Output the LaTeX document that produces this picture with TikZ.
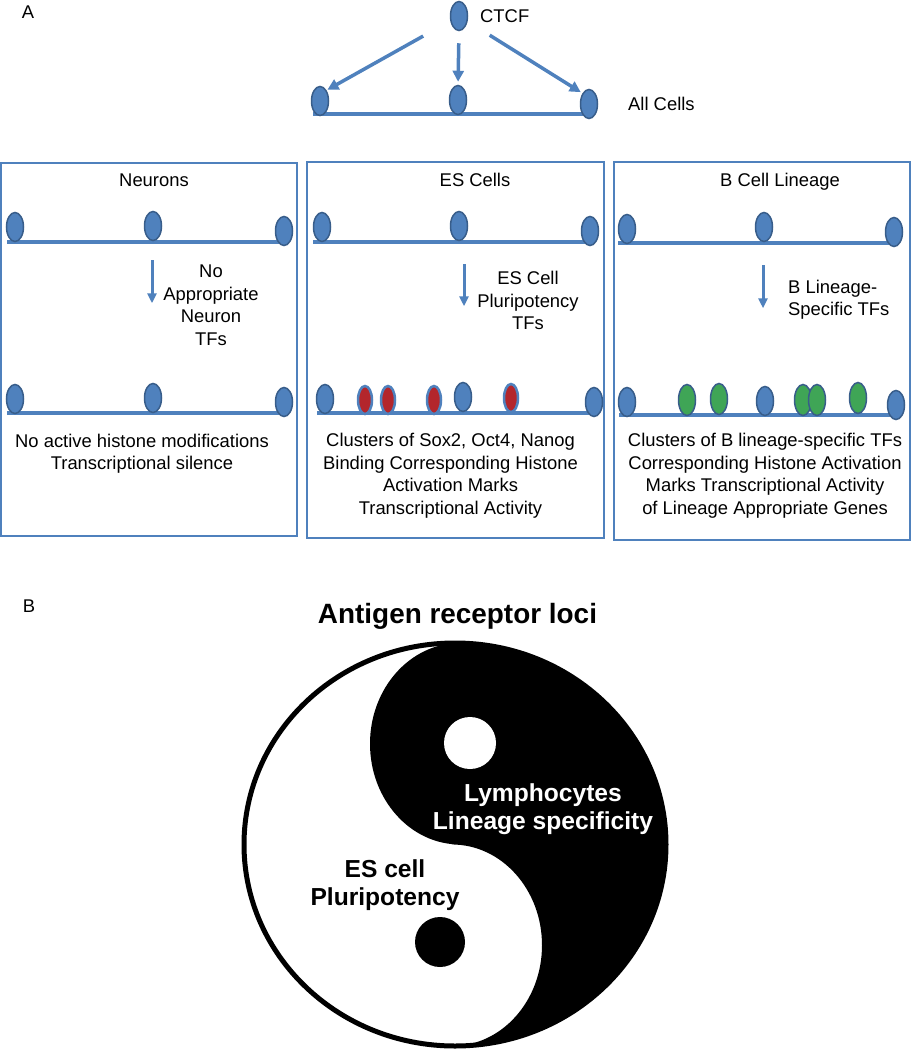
\documentclass[tikz,border=0pt]{standalone}
\usepackage{fontspec}
\setmainfont{Liberation Sans}
\usetikzlibrary{shapes.geometric,arrows.meta}
\definecolor{ctcfblue}{HTML}{4F81BD}
\definecolor{ctcfedge}{HTML}{385D8A}
\definecolor{tfred}{HTML}{B3262C}
\definecolor{tfgreen}{HTML}{3FA556}
\begin{document}
\begin{tikzpicture}[x=1pt,y=1pt,
  every node/.style={font=\fontsize{18.4}{22.5}\selectfont},
  ctcf/.style={ellipse,draw=ctcfedge,fill=ctcfblue,line width=1.5pt,minimum width=17pt,minimum height=29pt,inner sep=0pt},
  oct/.style={ellipse,draw=ctcfblue,fill=tfred,line width=2.5pt,minimum width=14pt,minimum height=28pt,inner sep=0pt},
  btf/.style={ellipse,draw=ctcfedge,fill=tfgreen,line width=1.5pt,minimum width=17pt,minimum height=31pt,inner sep=0pt},
  dna/.style={draw=ctcfblue,line width=4pt},
  panel/.style={draw=ctcfblue,line width=1.2pt},
  bind/.style={draw=ctcfblue,line width=3.5pt,-{Triangle[length=11pt,width=11pt]}},
  tfarrow/.style={draw=ctcfblue,line width=3pt,-{Triangle[length=10pt,width=9pt]}},
  big/.style={font=\fontsize{24.6}{28}\selectfont\bfseries,align=center}]
\useasboundingbox (0,0) rectangle (913,-1050);
\node (pa) at (28,-12) {A};
\node[ctcf] (ctcf) at (459,-16) {};
\node[anchor=west,inner sep=0pt] (ctcflab) at (480,-16) {CTCF};
\draw[dna] (313,-114) -- (590,-114);
\node[ctcf] (a1) at (320,-101) {};
\node[ctcf] (a2) at (458,-100) {};
\node[ctcf] (a3) at (589,-104) {};
\node[anchor=west,inner sep=0pt] (allcells) at (628,-104) {All Cells};
\draw[bind,shorten <=31pt,shorten >=1pt] (ctcf) -- (a1.north east);
\draw[bind,shorten <=12pt,shorten >=3pt] (ctcf.south) -- (a2.north);
\draw[bind,shorten <=26pt,shorten >=2pt] (ctcf) -- (a3.north west);
\draw[panel] (1,-163) rectangle (297,-536);
\draw[panel] (307,-162) rectangle (604,-538);
\draw[panel] (614,-162) rectangle (910,-540);
\node (neu) at (154,-180) {Neurons};
\draw[dna] (7,-242) -- (283,-242);
\node[ctcf] (n1) at (15,-227) {};
\node[ctcf] (n2) at (153,-226) {};
\node[ctcf] (n3) at (284,-231) {};
\draw[tfarrow] ([xshift=-1pt,yshift=-19pt]n2.south) -- ++(0,-43);
\node[align=center] (neutf) at (211,-305.5) {No\\Appropriate\\Neuron\\TFs};
\draw[dna] (7,-413) -- (283,-413);
\node[ctcf] (n4) at (15,-399) {};
\node[ctcf] (n5) at (153,-398) {};
\node[ctcf] (n6) at (284,-402) {};
\node[align=center] (neutxt) at (142,-453.5) {No active histone modifications\\Transcriptional silence};
\node (esc) at (475,-180) {ES Cells};
\draw[dna] (313,-242) -- (590,-242);
\node[ctcf] (e1) at (322,-227) {};
\node[ctcf] (e2) at (459,-226) {};
\node[ctcf] (e3) at (590,-231) {};
\draw[tfarrow] ([xshift=5pt,yshift=-23pt]e2.south) -- ++(0,-42);
\node[align=center] (estf) at (528,-300.5) {ES Cell\\Pluripotency\\TFs};
\draw[dna] (317,-413) -- (593,-413);
\node[ctcf] (e4) at (325,-399) {};
\node[oct] (s1) at (365,-400) {};
\node[oct] (s2) at (388,-400) {};
\node[oct] (s3) at (434,-400) {};
\node[ctcf] (e5) at (463,-397) {};
\node[oct] (s4) at (511,-398) {};
\node[ctcf] (e6) at (594,-402) {};
\node[align=center] (estxt) at (450.5,-475.5) {Clusters of Sox2, Oct4, Nanog\\Binding Corresponding Histone\\Activation Marks\\Transcriptional Activity};
\node (bcl) at (780,-182) {B Cell Lineage};
\draw[dna] (618,-243) -- (893,-243);
\node[ctcf] (b1) at (627,-229) {};
\node[ctcf] (b2) at (764,-227) {};
\node[ctcf] (b3) at (894,-232) {};
\draw[tfarrow] ([xshift=-1pt,yshift=-23pt]b2.south) -- ++(0,-43);
\node[align=left,anchor=west,inner sep=0pt] (blintf) at (788,-299.5) {B Lineage-\\Specific TFs};
\draw[dna] (619,-415) -- (893,-415);
\node[ctcf] (b4) at (627,-402) {};
\node[btf] (g1) at (687,-400) {};
\node[btf] (g2) at (719,-399) {};
\node[ctcf] (b5) at (765,-401) {};
\node[btf] (g3) at (803,-400) {};
\node[btf] (g4) at (817,-400) {};
\node[btf] (g5) at (858,-398) {};
\node[ctcf] (b6) at (896,-405) {};
\node[align=center] (btxt) at (765,-475.5) {Clusters of B lineage-specific TFs\\Corresponding Histone Activation\\Marks Transcriptional Activity\\of Lineage Appropriate Genes};
\node (pb) at (29,-606) {B};
\node[font=\fontsize{27.9}{32}\selectfont\bfseries] (loci) at (457.5,-616.5) {Antigen receptor loci};
\fill[black] (455,-643) arc[start angle=90,end angle=-90,x radius=211,y radius=201.5] -- (452,-1046) arc[start angle=-90,end angle=90,x radius=90,y radius=100.75] -- (460,-844.5) arc[start angle=-90,end angle=-270,x radius=90,y radius=100.75] -- cycle;
\draw[line width=5pt] (455,-844.5) ellipse[x radius=211,y radius=201.5];
\fill[white] (470,-743) circle[radius=26];
\fill[black] (440,-942) circle[radius=25];
\node[big,text=white] (lym) at (543,-809.5) {Lymphocytes\\Lineage specificity};
\node[big] (esp) at (385,-885.5) {ES cell\\Pluripotency};
\end{tikzpicture}
\end{document}
